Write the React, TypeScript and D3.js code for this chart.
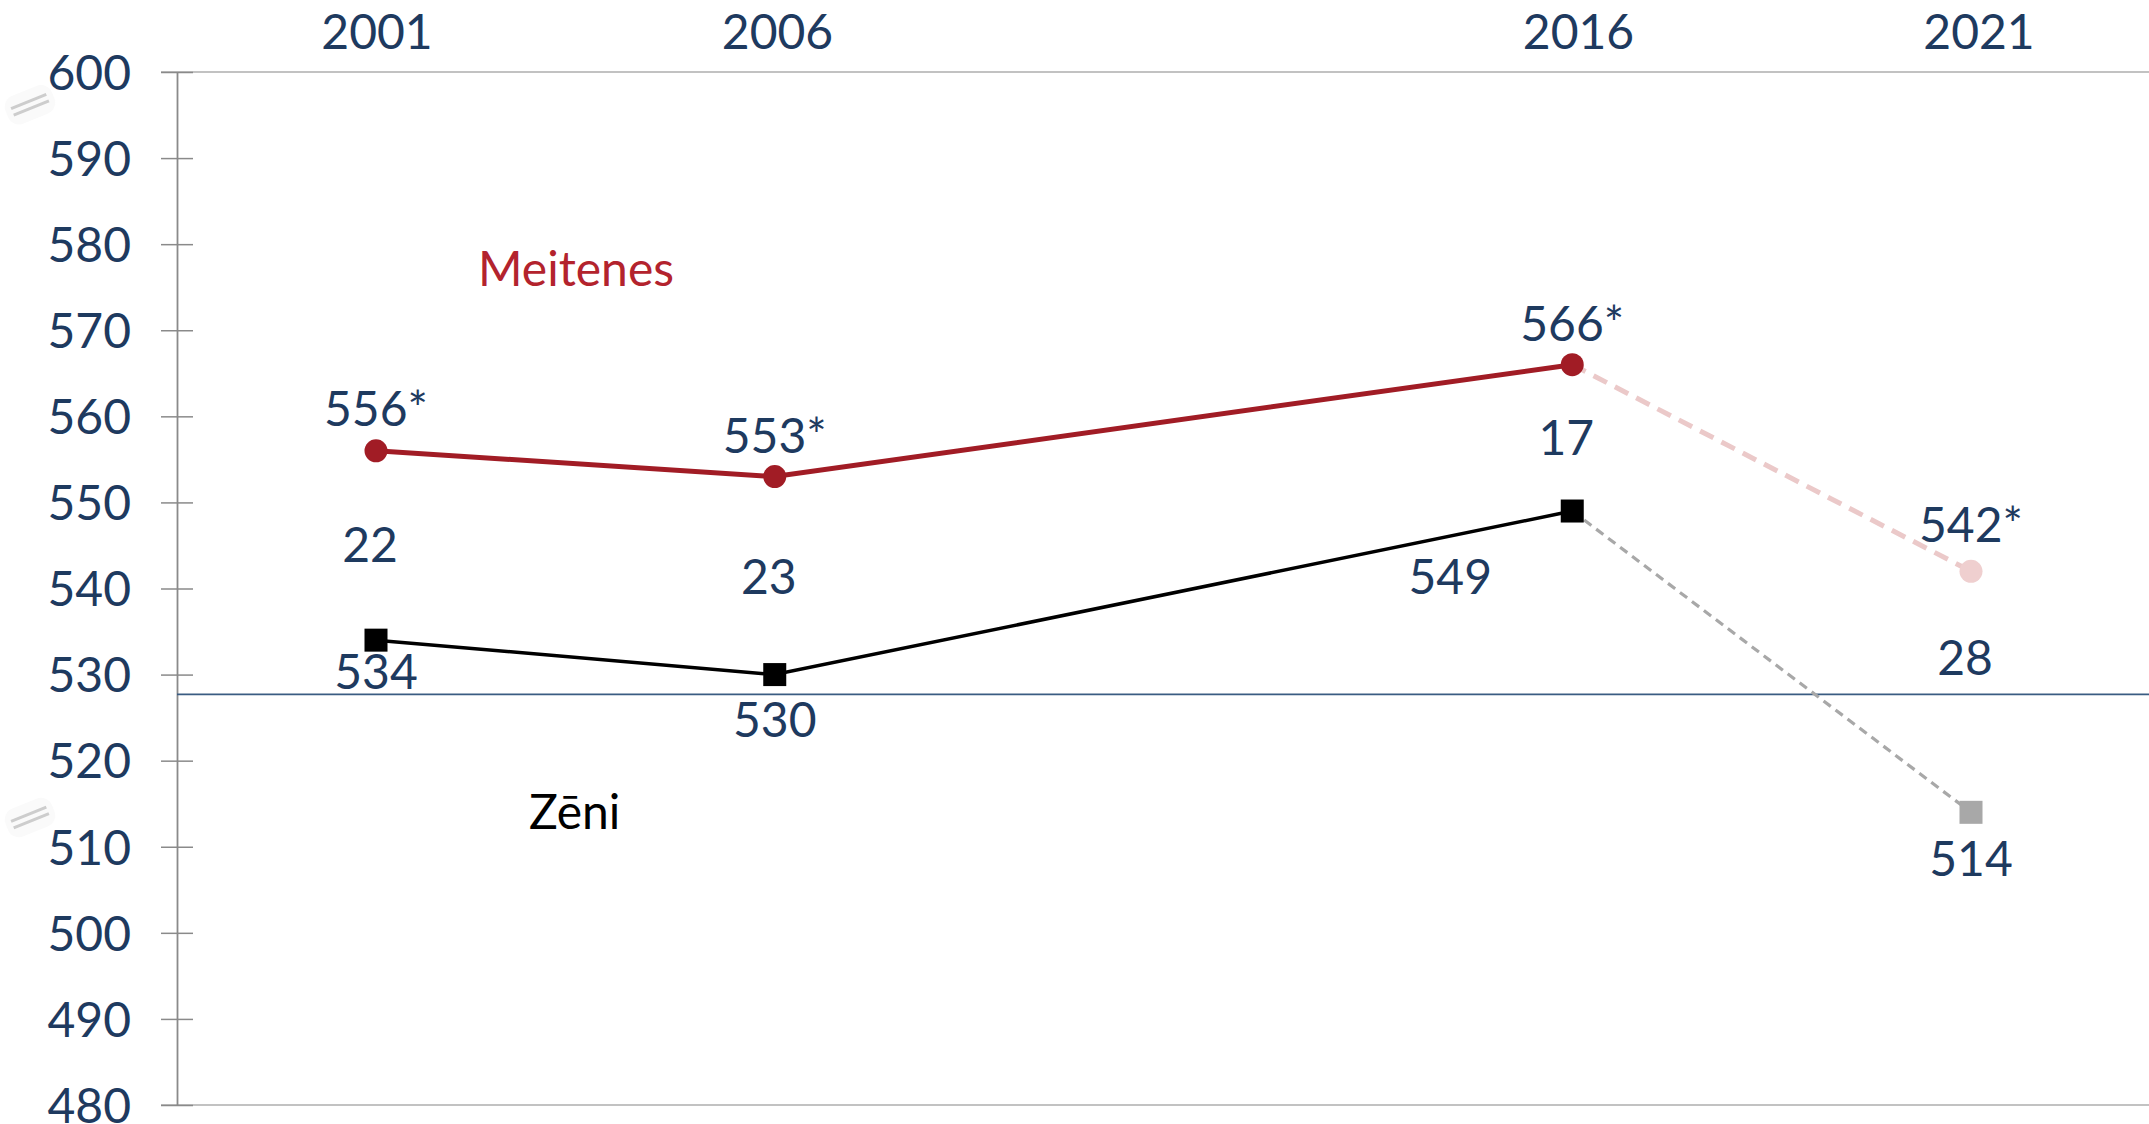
import React, { useEffect, useRef } from "react";
import * as d3 from "d3";

const years = [2001, 2006, 2016, 2021];
const girls = [556, 553, 566, 542];
const boys = [534, 530, 549, 514];
const girlsLabels = ["556*", "553*", "566*", "542*"];
const boysLabels = ["534", "530", "549", "514"];
const gaps = [22, 23, 17, 28];
const yTicks = [480, 490, 500, 510, 520, 530, 540, 550, 560, 570, 580, 590, 600];
const referenceValue = 527.7;
const breakValues = [596.2, 513.4];

const W = 2149;
const H = 1124;
const NAVY = "#1e3a5f";
const RED = "#a11c25";
const FONT = "Lato, 'Open Sans', sans-serif";

export default function App() {
  const ref = useRef<SVGSVGElement>(null);

  useEffect(() => {
    const svg = d3.select(ref.current);
    svg.selectAll("*").remove();

    const x = d3.scaleLinear().domain([2001, 2021]).range([376, 1971]);
    // header labels sit on a slightly wider band than the points
    const xHead = d3.scaleLinear().domain([2001, 2021]).range([377, 1979]);
    const y = d3.scaleLinear().domain([480, 600]).range([1105, 72]);
    const axisX = 177;

    // frame lines top and bottom
    [600, 480].forEach(v => {
      svg
        .append("line")
        .attr("x1", 161)
        .attr("x2", W)
        .attr("y1", y(v))
        .attr("y2", y(v))
        .attr("stroke", "#c2c2c2")
        .attr("stroke-width", 2);
    });

    // y axis
    const yAxis = d3
      .axisLeft(y)
      .tickValues(yTicks)
      .tickSize(16)
      .tickPadding(30)
      .tickSizeOuter(0);
    const gy = svg
      .append("g")
      .attr("transform", `translate(${axisX},0)`)
      .call(yAxis);
    gy.select(".domain").attr("stroke", "#8a8a8a").attr("stroke-width", 1.8);
    gy.selectAll(".tick line")
      .attr("x1", -16)
      .attr("x2", 16)
      .attr("stroke", "#8a8a8a")
      .attr("stroke-width", 1.5);
    gy.selectAll(".tick text")
      .attr("fill", NAVY)
      .attr("font-family", FONT)
      .attr("font-size", 48)
      .attr("x", -46)
      .attr("dy", "0.36em");

    // break marks
    breakValues.forEach(v => {
      const g = svg.append("g").attr("transform", `translate(30,${y(v)}) rotate(-22)`);
      g.append("rect")
        .attr("x", -25)
        .attr("y", -15)
        .attr("width", 50)
        .attr("height", 30)
        .attr("rx", 12)
        .attr("fill", "#fafafa");
      [-3.5, 3.5].forEach(o => {
        g.append("line")
          .attr("x1", -19)
          .attr("x2", 19)
          .attr("y1", o)
          .attr("y2", o)
          .attr("stroke", "#cdcdcd")
          .attr("stroke-width", 3);
      });
    });

    // year labels at top
    svg
      .append("g")
      .selectAll("text")
      .data(years)
      .enter()
      .append("text")
      .attr("x", d => xHead(d))
      .attr("y", 49)
      .attr("text-anchor", "middle")
      .attr("fill", NAVY)
      .attr("font-family", FONT)
      .attr("font-size", 48)
      .text(d => d);

    // reference line
    svg
      .append("line")
      .attr("x1", axisX)
      .attr("x2", W)
      .attr("y1", y(referenceValue))
      .attr("y2", y(referenceValue))
      .attr("stroke", "#3a5c82")
      .attr("stroke-width", 1.6);

    const line = d3
      .line<number>()
      .x((d, i) => x(years[i]))
      .y(d => y(d));

    const pts = (arr: number[]) => arr.map((v, i) => ({ year: years[i], v }));

    // dashed segments to 2021
    const lastSeg = (arr: number[]) =>
      d3
        .line<{ year: number; v: number }>()
        .x(d => x(d.year))
        .y(d => y(d.v))(pts(arr).slice(2));

    svg
      .append("path")
      .attr("d", lastSeg(girls))
      .attr("fill", "none")
      .attr("stroke", "#ebc9c9")
      .attr("stroke-width", 5)
      .attr("stroke-dasharray", "15,9");
    svg
      .append("path")
      .attr("d", lastSeg(boys))
      .attr("fill", "none")
      .attr("stroke", "#a8a8a8")
      .attr("stroke-width", 3.2)
      .attr("stroke-dasharray", "9,6");

    // solid lines 2001-2016
    svg
      .append("path")
      .attr("d", line(girls.slice(0, 3)))
      .attr("fill", "none")
      .attr("stroke", RED)
      .attr("stroke-width", 5);
    svg
      .append("path")
      .attr("d", line(boys.slice(0, 3)))
      .attr("fill", "none")
      .attr("stroke", "#000")
      .attr("stroke-width", 3.5);

    // markers
    svg
      .append("g")
      .selectAll("circle")
      .data(pts(girls))
      .enter()
      .append("circle")
      .attr("cx", d => x(d.year))
      .attr("cy", d => y(d.v))
      .attr("r", 11.5)
      .attr("fill", (d, i) => (i === 3 ? "#efcfcf" : RED));
    svg
      .append("g")
      .selectAll("rect")
      .data(pts(boys))
      .enter()
      .append("rect")
      .attr("x", d => x(d.year) - 11.5)
      .attr("y", d => y(d.v) - 11.5)
      .attr("width", 23)
      .attr("height", 23)
      .attr("fill", (d, i) => (i === 3 ? "#a8a8a8" : "#000"));

    const label = (tx: number, ty: number, s: string, color = NAVY) =>
      svg
        .append("text")
        .attr("x", tx)
        .attr("y", ty)
        .attr("text-anchor", "middle")
        .attr("fill", color)
        .attr("font-family", FONT)
        .attr("font-size", 48)
        .text(s);

    // girls value labels (above the points)
    const girlsDy = [-25, -24, -24, -29];
    girls.forEach((v, i) => label(x(years[i]), y(v) + girlsDy[i], girlsLabels[i]));

    // boys value labels
    const boysOff = [
      [0, 49],
      [0, 62],
      [-122, 83],
      [0, 64]
    ];
    boys.forEach((v, i) =>
      label(x(years[i]) + boysOff[i][0], y(v) + boysOff[i][1], boysLabels[i])
    );

    // gap labels between the lines
    const gapDy = [0, 1, 0, -34];
    gaps.forEach((g, i) =>
      label(
        x(years[i]) - 6,
        (y(girls[i]) + y(boys[i])) / 2 + 17 + gapDy[i],
        String(g)
      )
    );

    // series names
    svg
      .append("text")
      .attr("x", 478)
      .attr("y", 286)
      .attr("fill", "#b3232d")
      .attr("font-family", FONT)
      .attr("font-size", 48)
      .text("Meitenes");
    svg
      .append("text")
      .attr("x", 529)
      .attr("y", 829)
      .attr("fill", "#000")
      .attr("font-family", FONT)
      .attr("font-size", 48)
      .text("Zēni");
  }, []);

  return (
    <svg
      ref={ref}
      width={W}
      height={H}
      style={{ position: "absolute", left: 0, top: 0, background: "#fff" }}
    />
  );
}
